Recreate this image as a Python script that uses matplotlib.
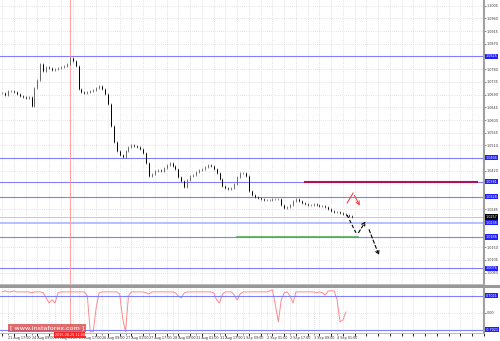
import matplotlib
matplotlib.use("Agg")
import matplotlib.pyplot as plt
from matplotlib.lines import Line2D

# hourly axis, 2-hour bars starting 21 Aug 13:00 (hour 0 = 21 Aug 17:00, trading hours only)
bar_hours = [-4 + 2 * i for i in range(120)]
closes = [
    1.0696, 1.0689, 1.0703, 1.0703, 1.0699, 1.0692, 1.0685, 1.0682, 1.0678, 1.0682,
    1.0650, 1.0713, 1.0742, 1.0798, 1.0774, 1.0788, 1.0784, 1.0777, 1.0781, 1.0784,
    1.0788, 1.0791, 1.0798, 1.0820, 1.0809, 1.0791, 1.0710, 1.0699, 1.0696, 1.0699,
    1.0703, 1.0706, 1.0713, 1.0721, 1.0710, 1.0692, 1.0657, 1.0579, 1.0522, 1.0490,
    1.0476, 1.0469, 1.0490, 1.0505, 1.0512, 1.0508, 1.0505, 1.0498, 1.0483, 1.0448,
    1.0402, 1.0409, 1.0420, 1.0423, 1.0420, 1.0430, 1.0441, 1.0448, 1.0437, 1.0427,
    1.0398, 1.0384, 1.0363, 1.0388, 1.0402, 1.0405, 1.0416, 1.0423, 1.0427, 1.0434,
    1.0441, 1.0437, 1.0427, 1.0413, 1.0391, 1.0367, 1.0359, 1.0356, 1.0359, 1.0374,
    1.0398, 1.0413, 1.0413, 1.0402, 1.0349, 1.0335, 1.0328, 1.0324, 1.0321, 1.0317,
    1.0317, 1.0317, 1.0321, 1.0321, 1.0321, 1.0299, 1.0289, 1.0292, 1.0299, 1.0313,
    1.0321, 1.0313, 1.0306, 1.0303, 1.0299, 1.0299, 1.0303, 1.0299, 1.0296, 1.0296,
    1.0292, 1.0285, 1.0278, 1.0275, 1.0275, 1.0271, 1.0267, 1.0264, 1.0260, 1.0257,
]

# oscillator in the lower window (same bars, ends a little earlier)
osc = [
    0.87, 0.91, 0.87, 0.87, 0.91, 0.87, 0.87, 0.87, 0.87, 0.87,
    0.83, 0.87, 0.87, 0.87, 0.83, 0.62, 0.41, 0.54, 0.41, 0.83,
    0.87, 0.87, 0.87, 0.87, 0.87, 0.87, 0.87, 0.87, 0.87, 0.70,
    -0.78, -0.78, 0.21, 0.83, 0.87, 0.87, 0.87, 0.87, 0.87, 0.87,
    0.78, -0.21, -0.78, 0.70, 0.87, 0.87, 0.87, 0.87, 0.87, 0.83,
    0.78, 0.87, 0.87, 0.87, 0.87, 0.87, 0.87, 0.87, 0.87, 0.83,
    0.70, 0.62, 0.83, 0.87, 0.87, 0.87, 0.87, 0.87, 0.87, 0.87,
    0.87, 0.87, 0.83, 0.54, 0.41, 0.78, 0.87, 0.87, 0.87, 0.74,
    0.54, 0.78, 0.87, 0.87, 0.87, 0.87, 0.87, 0.87, 0.87, 0.87,
    0.87, 0.91, 0.95, 0.33, -0.37, 0.54, 0.83, 0.87, 0.70, 0.41,
    0.87, 0.87, 0.87, 0.87, 0.87, 0.87, 0.87, 0.83, 0.87, 0.83,
    0.74, 0.91, 0.91, 0.91, 0.54, -0.37, -0.29, 0.04,
]

blue_levels = [1.0825, 1.0466, 1.0381, 1.0328, 1.0186, 1.0076]
light_level = 1.0236
current_price = 1.0257
magenta_level = 1.0381
magenta_span = (202, 319)
green_level = 1.0186
green_span = (156, 238)
vline_hour = 42

# forecast arrows (hour, price)
black_path1 = [(230.8, 1.0264), (237.6, 1.0193), (244.4, 1.0250)]
black_path2 = [(245.1, 1.0221), (253.2, 1.0112)]
red_path = [(230.8, 1.0306), (234.9, 1.0342), (240.3, 1.0289)]

tick_hours = [-16, 0, 16, 32, 48, 64, 80, 96, 112, 128, 144, 160, 176, 192, 208, 224]
tick_labels = ['21 Aug 01:00', '21 Aug 17:00', '24 Aug 09:00', '25 Aug 01:00', '25 Aug 17:00',
               '26 Aug 09:00', '27 Aug 01:00', '27 Aug 17:00', '28 Aug 09:00', '31 Aug 01:00',
               '31 Aug 17:00', '1 Sep 09:00', '2 Sep 01:00', '2 Sep 17:00', '3 Sep 09:00',
               '4 Sep 01:00']
price_ticks = [round(1.1005 - 0.0045 * k, 4) for k in range(22)]
osc_level = 0.7021

fs = 2.4
x_lo, x_hi = -5.45, 324.0
lvl_blue = '#8080ff'
grid_hours = [h - 4 for h in range(0, 330, 8)]

fig = plt.figure(figsize=(5, 3.41), dpi=100)
ax = fig.add_axes([0, 57 / 341, 484 / 500, 284 / 341])
ax2 = fig.add_axes([0, 8 / 341, 484 / 500, 45 / 341])

# candles
opens = [closes[0]] + closes[:-1]
for h, o, c in zip(bar_hours, opens, closes):
    hi = max(o, c) + 0.0004
    lo = min(o, c) - 0.0004
    ax.vlines(h, lo, hi, color='#333333', lw=0.4, zorder=3)
    ax.vlines(h, min(o, c), max(o, c) + 0.00005, color='#000000' if c < o else '#6a6a6a',
              lw=0.7, zorder=3)

# levels
for lv in blue_levels:
    ax.axhline(lv, color=lvl_blue, lw=0.8, zorder=2)
ax.axhline(light_level, color='#aab4ff', lw=1.2, zorder=2)
ax.axhline(current_price, color='#c0c0c0', lw=0.6, zorder=2)
ax.plot(magenta_span, [magenta_level] * 2, color='#b0105a', lw=1.5, zorder=4)
ax.plot(green_span, [green_level] * 2, color='#50b050', lw=1.2, zorder=4)
ax.axvline(vline_hour, color='#ff9090', lw=0.6, zorder=2)
ax2.axvline(vline_hour, color='#ff9090', lw=0.6, zorder=2)

# forecast arrows
bx, by = zip(*black_path1)
ax.plot(bx[:-1], by[:-1], color='k', lw=0.8, ls=(0, (3, 2)), zorder=5)
ax.annotate('', xy=black_path1[-1], xytext=black_path1[-2],
            arrowprops=dict(arrowstyle='->', color='k', lw=0.8, ls=(0, (3, 2)),
                            mutation_scale=6))
ax.annotate('', xy=black_path2[-1], xytext=black_path2[0],
            arrowprops=dict(arrowstyle='->', color='k', lw=0.8, ls=(0, (3, 2)),
                            mutation_scale=6))
rx, ry = zip(*red_path)
ax.plot(rx[:-1], ry[:-1], color='#ff3030', lw=0.7, zorder=5)
ax.annotate('', xy=red_path[-1], xytext=red_path[-2],
            arrowprops=dict(arrowstyle='->', color='#ff3030', lw=0.7, mutation_scale=6))

tagged = blue_levels + [light_level, current_price]
shown_ticks = [p for p in price_ticks if min(abs(p - t) for t in tagged) > 0.0016]
ax.set_yticks(shown_ticks)
ax.set_yticklabels([f'{p:.4f}' for p in shown_ticks])
ax.yaxis.tick_right()
ax.tick_params(axis='y', labelsize=fs, length=1.2, width=0.4, pad=0.8, colors='#333333')
ax.set_xticks(grid_hours)
ax.tick_params(axis='x', length=0, labelbottom=False)
ax.grid(True, color='#c8c8c8', ls=(0, (1, 2)), lw=0.5)
ax.set_xlim(x_lo, x_hi)
ax.set_ylim(1.1025 - 0.000354 * 284, 1.1025)


# level labels on the price scale
def tag(axis, y, txt, fc):
    axis.text(1.003, y, txt, transform=axis.get_yaxis_transform(), fontsize=fs,
              color='white', va='center', ha='left',
              bbox=dict(facecolor=fc, edgecolor='none', pad=0.4), clip_on=False, zorder=6)


for lv in blue_levels:
    tag(ax, lv, f'{lv:.4f}', '#2020ff')
tag(ax, light_level, f'{light_level:.4f}', '#2020ff')
tag(ax, current_price, f'{current_price:.4f}', '#000000')

# oscillator window
osc_hours = bar_hours[:len(osc)]
ax2.plot(osc_hours, osc, color='#ff8a8a', lw=0.7)
ax2.axhline(osc_level, color=lvl_blue, lw=0.8)
ax2.axhline(-osc_level, color=lvl_blue, lw=0.8)
ax2.set_yticks([0.0])
ax2.set_yticklabels(['0.00'])
ax2.yaxis.tick_right()
ax2.tick_params(axis='y', labelsize=fs, length=1.2, width=0.4, pad=0.8, colors='#333333')
tag(ax2, osc_level, f'{osc_level:.4f}', '#2020ff')
tag(ax2, -osc_level, f'{-osc_level:.4f}', '#2020ff')
ax2.set_xticks(tick_hours)
ax2.set_xticklabels(tick_labels)
ax2.tick_params(axis='x', labelsize=fs, length=1.2, width=0.4, pad=1.2, colors='#333333')
for lab in ax2.get_xticklabels():
    lab.set_horizontalalignment('left')
ax2.set_xticks(grid_hours, minor=True)
ax2.grid(True, which='both', color='#c8c8c8', ls=(0, (1, 2)), lw=0.5)
ax2.set_xlim(x_lo, x_hi)
ax2.set_ylim(-0.83, 1.03)

for a in (ax, ax2):
    for s in ('top', 'left'):
        a.spines[s].set_visible(False)
    a.spines['right'].set_color('#a0a0a0')
    a.spines['right'].set_linewidth(1.5)
    a.spines['bottom'].set_color('#b0b0b0')
    a.spines['bottom'].set_linewidth(0.6)

# window separator
fig.add_artist(Line2D([0, 1], [55 / 341, 55 / 341], color='#999999', lw=2.2))

# crosshair time tag and watermark
ax2.text(vline_hour, -0.83, '2015.08.25 11:00', fontsize=fs, color='white', ha='center',
         va='top', bbox=dict(facecolor='#ff2020', edgecolor='none', pad=0.5), clip_on=False,
         zorder=6)
fig.text(10 / 500, 1 - 328 / 341, '[ www.instaforex.com ]', fontsize=4.6, color='white',
         va='center', ha='left',
         bbox=dict(facecolor='#d84848', edgecolor='none', alpha=0.8, pad=1.2))

fig.savefig('out.png', dpi=100)
